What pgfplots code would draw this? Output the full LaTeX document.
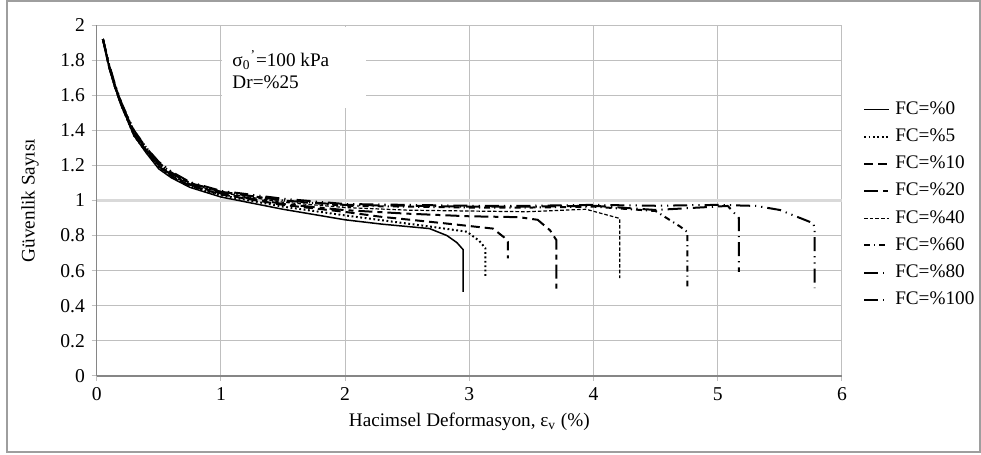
\documentclass[border=0pt]{standalone}
\usepackage{fontspec}
\setmainfont{Liberation Serif}
\usepackage{pgfplots}
\pgfplotsset{compat=1.18}

\definecolor{gridgray}{RGB}{191,191,191}
\definecolor{axisgray}{RGB}{134,134,134}
\definecolor{bandgray}{RGB}{217,217,217}

\begin{document}
\fontsize{9.6}{11.5}\selectfont
\begin{tikzpicture}
\useasboundingbox (0,0) rectangle (490.5pt,227.5pt);
\draw[axisgray!80, line width=0.6pt] (3.5pt,1.5pt) rectangle (490pt,227pt);

\begin{axis}[
scale only axis,
width=372.65pt, height=175.5pt,
at={(48.35pt,39.5pt)}, anchor=south west,
xmin=0, xmax=6, ymin=0, ymax=2,
xtick={0,1,2,3,4,5,6},
ytick={0,0.2,0.4,0.6,0.8,1,1.2,1.4,1.6,1.8,2},
/pgf/number format/assume math mode=true,
/pgf/number format/fixed,
tick label style={font=\fontsize{9.8}{11.5}\selectfont},
grid=major,
grid style={gridgray, line width=0.5pt},
axis x line*=bottom, axis y line*=left,
axis line style={axisgray, line width=0.6pt},
major tick length=2.5pt,
tick align=outside,
tick style={gridgray, line width=0.5pt},
label style={font=\fontsize{10.2}{12}\selectfont},
every axis x label/.style={at={(axis description cs:0.5,-0.131)}, anchor=center},
every axis y label/.style={at={(axis description cs:-0.0895,0.5)}, rotate=90, anchor=center},
xlabel={Hacimsel Deformasyon, ε\textsubscript{v} (\%)},
ylabel={Güvenlik Sayısı},
legend cell align={left},
legend image code/.code={\draw[#1] (0pt,0pt) -- (12.5pt,0pt);},
legend style={at={(axis description cs:1.028,0.4886)}, anchor=west,
  draw=none, fill=none, inner sep=0pt, row sep=3.6pt,
  font=\fontsize{9.6}{11.5}\selectfont,
  nodes={inner sep=0.5pt, text height=7pt, text depth=2pt},
  /tikz/every odd column/.append style={column sep=2pt}},
]
\addplot [bandgray, line width=1.5pt, forget plot] coordinates {(0,1) (6,1)};

\fill[white] (axis cs:1.01,1.99) rectangle (axis cs:2.17,1.527);
\node[anchor=west, inner sep=0pt] at (axis cs:1.09,1.80) {σ\textsubscript{0}\textsuperscript{'}=100 kPa};
\node[anchor=west, inner sep=0pt] at (axis cs:1.09,1.675) {Dr=\%25};

% FC=%0
\addplot [black, line width=0.75pt] coordinates {
(0.05,1.92) (0.1,1.76) (0.15,1.64) (0.2,1.54) (0.3,1.37) (0.4,1.27) (0.5,1.18) (0.6,1.13)
(0.75,1.075) (1.0,1.02) (1.5,0.95) (2.0,0.89) (2.3,0.865) (2.68,0.84) (2.82,0.80)
(2.9,0.76) (2.95,0.72) (2.95,0.48)};
\addlegendentry{FC=\%0}
% FC=%5
\addplot [black, line width=1pt, dash pattern=on 0.9pt off 1.3pt] coordinates {
(0.05,1.92) (0.1,1.76) (0.15,1.64) (0.2,1.54) (0.3,1.37) (0.4,1.275) (0.5,1.19) (0.6,1.135)
(0.75,1.08) (1.0,1.03) (1.5,0.965) (2.0,0.915) (2.28,0.889) (2.7,0.85) (2.98,0.822)
(3.08,0.77) (3.13,0.727) (3.13,0.57)};
\addlegendentry{FC=\%5}
% FC=%10
\addplot [black, line width=1pt, dash pattern=on 4.5pt off 2.5pt] coordinates {
(0.05,1.92) (0.1,1.76) (0.15,1.64) (0.2,1.54) (0.3,1.375) (0.4,1.28) (0.5,1.195) (0.6,1.14)
(0.75,1.085) (1.0,1.035) (1.5,0.975) (2.0,0.935) (2.28,0.908) (2.8,0.87) (3.19,0.84)
(3.28,0.79) (3.31,0.765) (3.31,0.67)};
\addlegendentry{FC=\%10}
% FC=%20
\addplot [black, line width=1pt, dash pattern=on 7pt off 2.5pt on 2.5pt off 2.5pt] coordinates {
(0.05,1.92) (0.1,1.76) (0.15,1.64) (0.2,1.54) (0.3,1.38) (0.4,1.285) (0.5,1.2) (0.6,1.145)
(0.75,1.09) (1.0,1.04) (1.5,0.98) (2.0,0.945) (2.5,0.925) (3.0,0.91) (3.4,0.905)
(3.55,0.89) (3.65,0.83) (3.70,0.775) (3.70,0.47)};
\addlegendentry{FC=\%20}
% FC=%40
\addplot [black, line width=0.6pt, dash pattern=on 1.8pt off 1pt] coordinates {
(0.05,1.92) (0.1,1.76) (0.15,1.64) (0.2,1.54) (0.3,1.385) (0.4,1.29) (0.5,1.205) (0.6,1.15)
(0.75,1.095) (1.0,1.045) (1.5,0.99) (2.0,0.96) (2.5,0.945) (3.0,0.94) (3.46,0.936)
(3.94,0.95) (4.21,0.898) (4.21,0.557)};
\addlegendentry{FC=\%40}
% FC=%60
\addplot [black, line width=1pt, dash pattern=on 3pt off 2pt on 0.6pt off 2pt] coordinates {
(0.05,1.92) (0.1,1.77) (0.15,1.65) (0.2,1.55) (0.3,1.395) (0.4,1.30) (0.5,1.215) (0.6,1.16)
(0.75,1.10) (1.0,1.05) (1.5,1.0) (2.0,0.97) (2.5,0.965) (3.0,0.96) (3.5,0.96)
(4.0,0.965) (4.5,0.94) (4.70,0.85) (4.755,0.82) (4.755,0.51)};
\addlegendentry{FC=\%60}
% FC=%80
\addplot [black, line width=1pt, dash pattern=on 7pt off 2.5pt on 0.6pt off 2.5pt] coordinates {
(0.05,1.92) (0.1,1.77) (0.15,1.65) (0.2,1.55) (0.3,1.39) (0.4,1.295) (0.5,1.21) (0.6,1.155)
(0.75,1.10) (1.0,1.05) (1.5,1.0) (2.0,0.975) (2.5,0.97) (3.0,0.965) (3.5,0.965)
(4.0,0.97) (4.5,0.946) (5.08,0.969) (5.17,0.90) (5.17,0.594)};
\addlegendentry{FC=\%80}
% FC=%100
\addplot [black, line width=1pt, dash pattern=on 7pt off 2.5pt on 0.6pt off 2.5pt on 0.6pt off 2.5pt] coordinates {
(0.05,1.92) (0.1,1.775) (0.15,1.655) (0.2,1.555) (0.3,1.40) (0.4,1.30) (0.5,1.22) (0.6,1.165)
(0.75,1.105) (1.0,1.055) (1.5,1.01) (2.0,0.98) (2.5,0.975) (3.0,0.97) (3.5,0.97)
(4.0,0.975) (4.5,0.97) (5.0,0.975) (5.31,0.969) (5.5,0.946) (5.77,0.87) (5.78,0.832) (5.78,0.50)};
\addlegendentry{FC=\%100}
\end{axis}
\end{tikzpicture}
\end{document}
